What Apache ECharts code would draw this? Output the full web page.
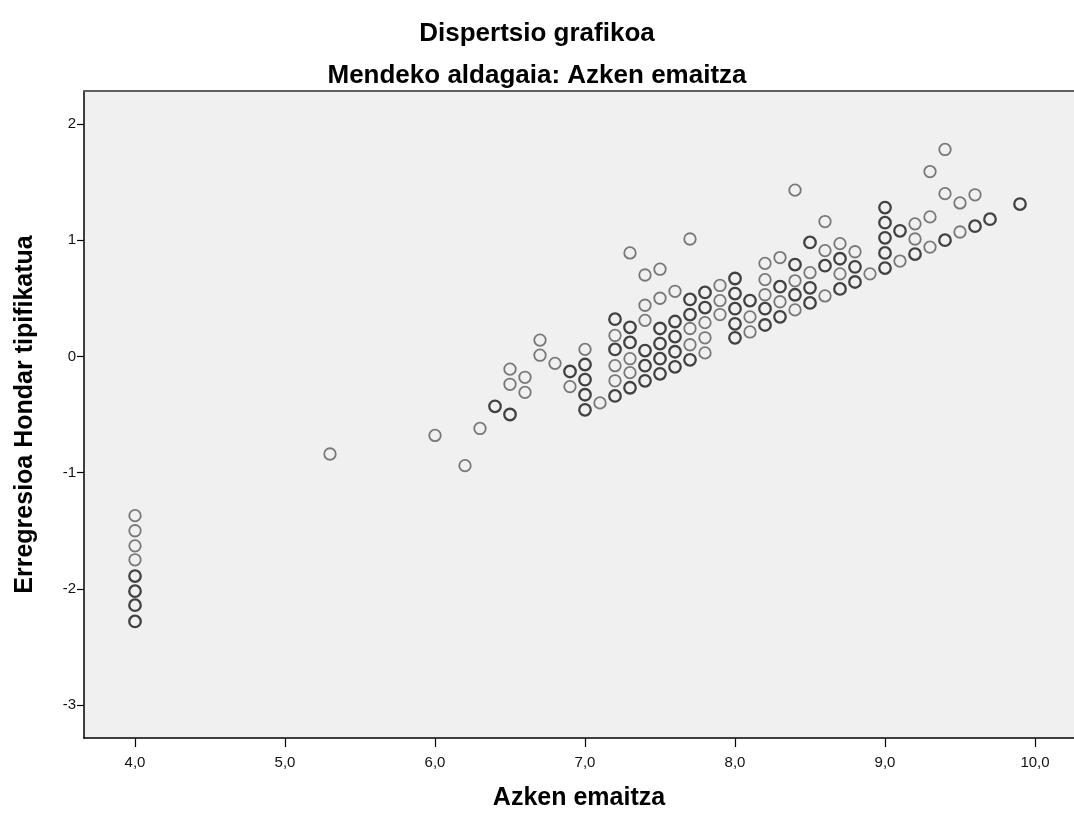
<!DOCTYPE html>
<html>
<head>
<meta charset="utf-8">
<script src="https://cdn.jsdelivr.net/npm/echarts@6/dist/echarts.min.js"></script>
<style>
html,body{margin:0;padding:0;background:#ffffff;}
#chart{width:1074px;height:816px;}
</style>
</head>
<body>
<div id="chart"></div>
<script>
// ---- texts ----
const titleText = 'Dispertsio grafikoa';
const subtitleText = 'Mendeko aldagaia: Azken emaitza';
const xAxisName = 'Azken emaitza';
const yAxisName = 'Erregresioa Hondar tipifikatua';

// ---- tick labels ----
const xTickValues = [4, 5, 6, 7, 8, 9, 10];
const yTickValues = [-3, -2, -1, 0, 1, 2];

// ---- data: one entry per visible circle ----
// score (Azken emaitza), standardized residual, overlap level (1 light .. 3 dark)
const scores = [
  4.0,4.0,4.0,4.0,4.0,4.0,4.0,4.0,
  5.3, 6.0, 6.2, 6.3, 6.4,
  6.5,6.5,6.5, 6.6,6.6, 6.7,6.7, 6.8, 6.9,6.9,
  7.0,7.0,7.0,7.0,7.0, 7.1,
  7.2,7.2,7.2,7.2,7.2,7.2,
  7.3,7.3,7.3,7.3,7.3,7.3,
  7.4,7.4,7.4,7.4,7.4,7.4,
  7.5,7.5,7.5,7.5,7.5,7.5,
  7.6,7.6,7.6,7.6,7.6,
  7.7,7.7,7.7,7.7,7.7,7.7,
  7.8,7.8,7.8,7.8,7.8,
  7.9,7.9,7.9,
  8.0,8.0,8.0,8.0,8.0,
  8.1,8.1,8.1,
  8.2,8.2,8.2,8.2,8.2,
  8.3,8.3,8.3,8.3,
  8.4,8.4,8.4,8.4,8.4,
  8.5,8.5,8.5,8.5,
  8.6,8.6,8.6,8.6,
  8.7,8.7,8.7,8.7,
  8.8,8.8,8.8,
  8.9,
  9.0,9.0,9.0,9.0,9.0,
  9.1,9.1,
  9.2,9.2,9.2,
  9.3,9.3,9.3,
  9.4,9.4,9.4,
  9.5,9.5,
  9.6,9.6,
  9.7,
  9.9
];
const residuals = [
  -1.37,-1.50,-1.63,-1.75,-1.89,-2.02,-2.14,-2.28,
  -0.84, -0.68, -0.94, -0.62, -0.43,
  -0.11,-0.24,-0.50, -0.18,-0.31, 0.14,0.01, -0.06, -0.13,-0.26,
  0.06,-0.07,-0.20,-0.33,-0.46, -0.40,
  0.32,0.18,0.06,-0.08,-0.21,-0.34,
  0.89,0.25,0.12,-0.02,-0.14,-0.27,
  0.70,0.44,0.31,0.05,-0.08,-0.21,
  0.75,0.50,0.24,0.11,-0.02,-0.15,
  0.56,0.30,0.17,0.04,-0.09,
  1.01,0.49,0.36,0.24,0.10,-0.03,
  0.55,0.42,0.29,0.16,0.03,
  0.61,0.48,0.36,
  0.67,0.54,0.41,0.28,0.16,
  0.48,0.34,0.21,
  0.80,0.66,0.53,0.41,0.27,
  0.85,0.60,0.47,0.34,
  1.43,0.79,0.65,0.53,0.40,
  0.98,0.72,0.59,0.46,
  1.16,0.91,0.78,0.52,
  0.97,0.84,0.71,0.58,
  0.90,0.77,0.64,
  0.71,
  1.28,1.15,1.02,0.89,0.76,
  1.08,0.82,
  1.14,1.01,0.88,
  1.59,1.20,0.94,
  1.78,1.40,1.00,
  1.32,1.07,
  1.39,1.12,
  1.18,
  1.31
];
const overlap = [
  2,2,2,2,3,3,3,3,
  2, 2, 2, 2, 3,
  2,2,3, 2,2, 2,2, 2, 3,2,
  2,3,3,3,3, 2,
  3,2,3,2,2,3,
  2,3,3,2,2,3,
  2,2,2,3,3,3,
  2,2,3,3,3,3,
  2,3,3,3,3,
  2,3,3,2,2,3,
  3,3,2,2,2,
  2,2,2,
  3,3,3,3,3,
  3,2,2,
  2,2,2,3,3,
  2,3,2,3,
  2,3,2,3,2,
  3,2,3,3,
  2,2,3,2,
  2,3,2,3,
  2,3,3,
  2,
  3,3,3,3,3,
  3,2,
  2,2,3,
  2,2,2,
  2,2,3,
  2,2,
  2,3,
  3,
  3
];

// ---- styling helpers ----
const FONT = "'Liberation Sans', Arial, sans-serif";
const ringColor = {1: '#808080', 2: '#5a5a5a', 3: '#151515'};
const ringWidth = {1: 1.6, 2: 1.8, 3: 2.3};

const points = scores.map((s, i) => ({
  value: [s, residuals[i]],
  itemStyle: {
    color: 'rgba(0,0,0,0)',
    borderColor: ringColor[overlap[i]],
    borderWidth: ringWidth[overlap[i]]
  }
}));

const fmtX = v => Number(v).toFixed(1).replace('.', ',');

const chart = echarts.init(document.getElementById('chart'), null, {renderer: 'canvas'});
chart.setOption({
  animation: false,
  backgroundColor: '#ffffff',
  title: [
    {text: titleText, left: 'center', top: 21, padding: 0,
     textStyle: {fontFamily: FONT, fontSize: 26, fontWeight: 'bold', color: '#000', lineHeight: 26}},
    {text: subtitleText, left: 'center', top: 63, padding: 0,
     textStyle: {fontFamily: FONT, fontSize: 26, fontWeight: 'bold', color: '#000', lineHeight: 26}}
  ],
  grid: {
    left: 84, right: 0, top: 91, bottom: 74,
    show: true, backgroundColor: '#f0f0f0', borderWidth: 0
  },
  xAxis: [
    {
      type: 'value', min: 3.66, max: 10.26,
      name: xAxisName, nameLocation: 'middle', nameGap: 48,
      nameTextStyle: {fontFamily: FONT, fontSize: 25, fontWeight: 'bold', color: '#000'},
      axisLine: {show: true, onZero: false, lineStyle: {color: '#000', width: 1.5}},
      axisTick: {show: true, length: 9, customValues: xTickValues, lineStyle: {color: '#000', width: 1.2}},
      axisLabel: {customValues: xTickValues, formatter: fmtX, fontFamily: FONT, fontSize: 15, color: '#111', margin: 17},
      splitLine: {show: false}
    },
    {
      type: 'value', position: 'top', min: 3.66, max: 10.26,
      axisLine: {show: true, onZero: false, lineStyle: {color: '#5f5f5f', width: 2}},
      axisTick: {show: false}, axisLabel: {show: false}, splitLine: {show: false}
    }
  ],
  yAxis: {
    type: 'value', min: -3.283, max: 2.283,
    name: yAxisName, nameLocation: 'middle', nameGap: 46, nameRotate: 90,
    nameTextStyle: {fontFamily: FONT, fontSize: 25, fontWeight: 'bold', color: '#000'},
    axisLine: {show: true, onZero: false, lineStyle: {color: '#000', width: 1.5}},
    axisTick: {show: true, length: 7, customValues: yTickValues, lineStyle: {color: '#000', width: 1.2}},
    axisLabel: {customValues: yTickValues, formatter: v => String(v), fontFamily: FONT, fontSize: 15, color: '#111', margin: 8},
    splitLine: {show: false}
  },
  series: [{
    type: 'scatter',
    xAxisIndex: 0,
    symbol: 'circle',
    symbolSize: 11.5,
    data: points,
    emphasis: {disabled: true}
  }]
});
</script>
</body>
</html>
